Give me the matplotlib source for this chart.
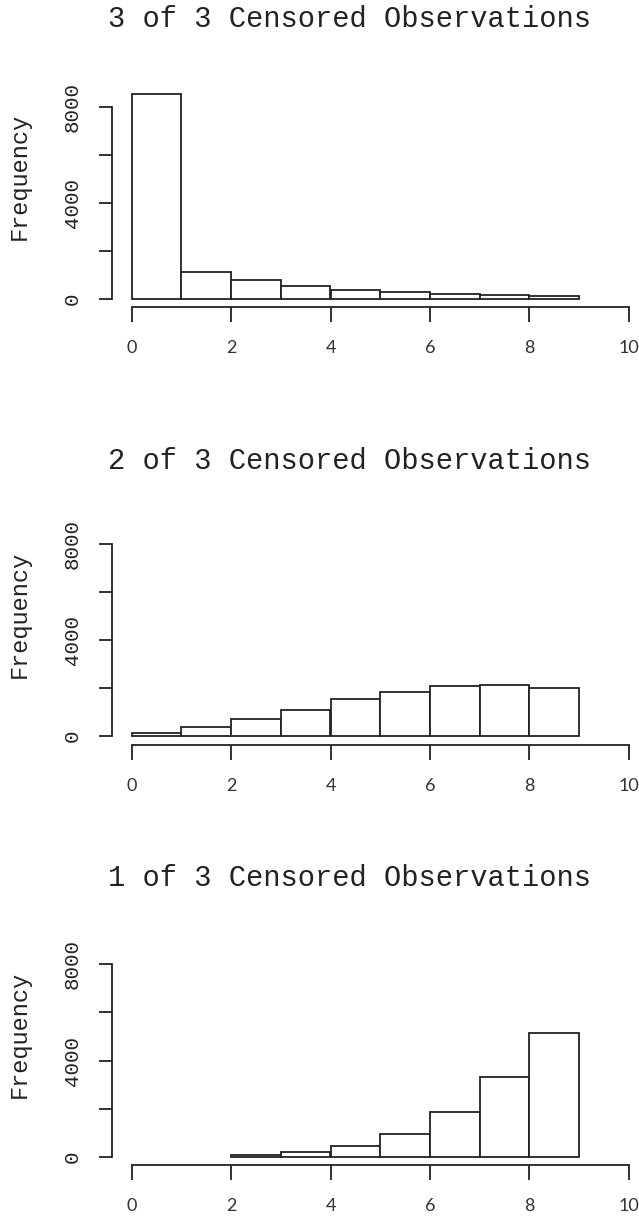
import matplotlib
matplotlib.use('Agg')
import matplotlib.pyplot as plt

# bin edges (left edges) and counts per panel
bin_left = [0, 1, 2, 3, 4, 5, 6, 7, 8]
counts_3of3 = [8542, 1097, 764, 514, 375, 278, 208, 167, 97]
counts_2of3 = [139, 362, 710, 1085, 1544, 1837, 2087, 2143, 2017]
counts_1of3 = [0, 0, 56, 195, 445, 946, 1864, 3297, 5162]

titles = ['3 of 3 Censored Observations',
          '2 of 3 Censored Observations',
          '1 of 3 Censored Observations']
yticks = [0, 2000, 4000, 6000, 8000]
ytick_labels = ['0', '', '4000', '', '8000']
xticks = [0, 2, 4, 6, 8, 10]
xtick_labels = ['0', '2', '4', '6', '8', '10']

ink = '#222222'
mono = 'Liberation Mono'

W, H = 639, 1218
fig = plt.figure(figsize=(W / 100, H / 100), dpi=100)

# pixel geometry of each panel: (y of 0, y of 8000, title centre)
panels = [(298.7, 107.3, 19), (736.0, 544.3, 461), (1156.7, 964.3, 878)]
x0_px, x10_px = 131.7, 628.7
ylo, yhi = -360, 9360

for counts, title, (y0, y8, ty) in zip([counts_3of3, counts_2of3, counts_1of3], titles, panels):
    ppu = (y0 - y8) / 8000
    bottom_px = y0 - ylo * ppu
    top_px = y0 - yhi * ppu
    xppu = (x10_px - x0_px) / 10
    left_px = x0_px - 0.4 * xppu
    right_px = x10_px + 0.4 * xppu
    ax = fig.add_axes([left_px / W, 1 - bottom_px / H,
                       (right_px - left_px) / W, (bottom_px - top_px) / H])
    ax.set_xlim(-0.4, 10.4)
    ax.set_ylim(ylo, yhi)

    lefts = [b for b, c in zip(bin_left, counts) if c > 0]
    hs = [c for c in counts if c > 0]
    ax.bar(lefts, hs, width=1, align='edge', facecolor='white',
           edgecolor=ink, linewidth=1.3, clip_on=False)

    for s in ['top', 'right']:
        ax.spines[s].set_visible(False)
    ax.spines['left'].set_bounds(0, 8000)
    ax.spines['bottom'].set_bounds(0, 10)
    for s in ['left', 'bottom']:
        ax.spines[s].set_color(ink)
        ax.spines[s].set_linewidth(1.3)

    ax.set_yticks(yticks)
    ax.set_yticklabels(ytick_labels, fontfamily=mono, fontsize=15, color=ink)
    for lab in ax.get_yticklabels():
        lab.set_rotation(90)
        lab.set_va('center')
    ax.set_xticks(xticks)
    ax.set_xticklabels(xtick_labels, fontfamily='Lato', fontsize=13,
                       color='#333333')
    ax.tick_params(axis='y', length=9.5, width=1.3, color=ink, pad=12)
    ax.tick_params(axis='x', length=10.8, width=1.3, color=ink, pad=13)

    ax.set_ylabel('Frequency', fontfamily=mono, fontsize=17, color=ink)
    ax.yaxis.set_label_coords((31 - left_px) / (right_px - left_px), 5090,
                              transform=ax.get_yaxis_transform())

    fig.text(349.5 / W, 1 - ty / H, title, fontfamily=mono, fontsize=20.7,
             color=ink, ha='center', va='center')

fig.savefig('out.png', dpi=100)
